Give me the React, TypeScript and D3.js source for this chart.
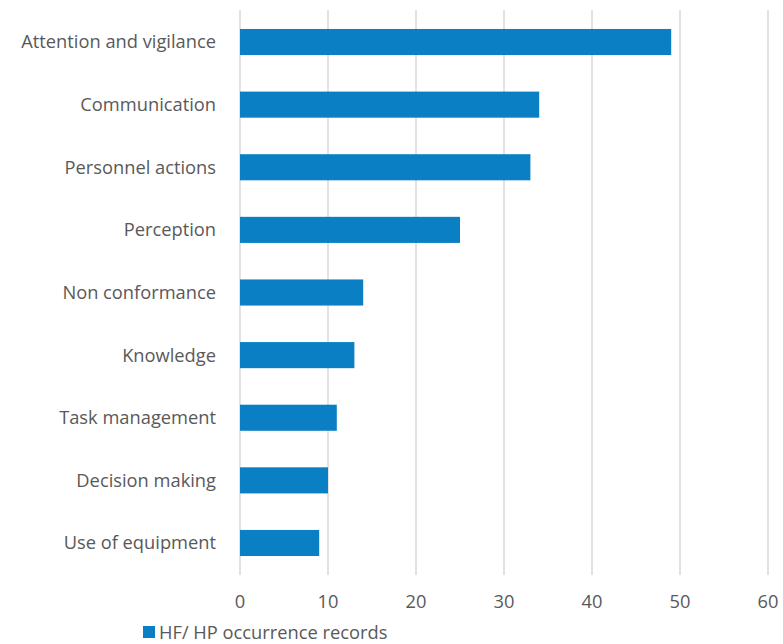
import React from "react";
import * as d3 from "d3";

const categories = [
  "Attention and vigilance",
  "Communication",
  "Personnel actions",
  "Perception",
  "Non conformance",
  "Knowledge",
  "Task management",
  "Decision making",
  "Use of equipment",
];
const values = [49, 34, 33, 25, 14, 13, 11, 10, 9];
const xTicks = [0, 10, 20, 30, 40, 50, 60];
const seriesName = "HF/ HP occurrence records";

const W = 783;
const H = 644;
const FONT = "'Open Sans', 'Liberation Sans', sans-serif";
const TEXT = "#595959";
const BAR = "#0a7fc4";
const FS = 18.3;

export default function App() {
  const x = d3.scaleLinear().domain([0, 60]).range([240, 768]);
  const y = d3
    .scaleBand<string>()
    .domain(categories)
    .range([10.7, 574.3])
    .paddingInner(1.4 / 2.4)
    .paddingOuter(0.7 / 2.4);

  return (
    <div
      style={{
        position: "fixed",
        left: 0,
        top: 0,
        width: W,
        height: H,
        overflow: "hidden",
        background: "#fff",
      }}
    >
      <svg width={W} height={H} style={{ display: "block" }}>
        {xTicks.map((t) => (
          <line
            key={"g" + t}
            x1={x(t)}
            x2={x(t)}
            y1={10}
            y2={575}
            stroke="#d9d9d9"
            strokeWidth={1.5}
          />
        ))}
        {categories.map((c, i) => (
          <rect
            key={c}
            x={x(0)}
            y={y(c)}
            width={x(values[i]) - x(0)}
            height={y.bandwidth()}
            fill={BAR}
          />
        ))}
        {categories.map((c) => (
          <text
            key={"l" + c}
            x={216}
            y={(y(c) as number) + y.bandwidth() / 2}
            dy="0.35em"
            textAnchor="end"
            fontFamily={FONT}
            fontSize={FS}
            fill={TEXT}
          >
            {c}
          </text>
        ))}
        {xTicks.map((t) => (
          <text
            key={"t" + t}
            x={x(t)}
            y={608}
            textAnchor="middle"
            fontFamily={FONT}
            fontSize={FS}
            fill={TEXT}
          >
            {t}
          </text>
        ))}
        <rect x={143} y={626} width={12} height={12} fill={BAR} />
        <text x={159} y={638.5} fontFamily={FONT} fontSize={FS} fill={TEXT}>
          {seriesName}
        </text>
      </svg>
    </div>
  );
}
